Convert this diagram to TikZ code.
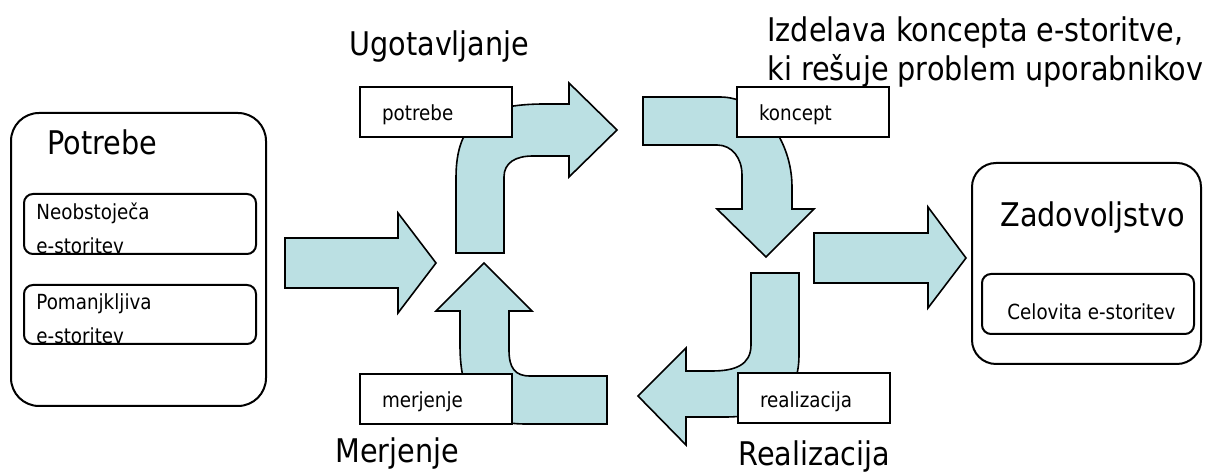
\documentclass[tikz,border=0pt]{standalone}
\usepackage{fontspec}
\setmainfont{DejaVu Sans}[FakeStretch=0.88]
\usepackage{tikz}
\usetikzlibrary{positioning}
\definecolor{arrowblue}{RGB}{187,224,227}
\newcommand{\bigfont}{\fontsize{16.3pt}{19.5pt}\selectfont}
\newcommand{\smallfont}{\fontsize{10.4pt}{17pt}\selectfont}

\begin{document}
\begin{tikzpicture}[x=0.5pt, y=-0.5pt,
    bigbox/.style={draw, line width=1pt, rounded corners=14pt, anchor=north west, inner sep=0pt},
    innerbox/.style={draw, line width=1pt, rounded corners=4.5pt, anchor=north west, inner sep=0pt},
    labelbox/.style={draw, line width=1pt, fill=white, minimum width=76pt, minimum height=25pt, inner sep=0pt,
      text width=54pt, align=left, text height=17pt, text depth=8pt, font=\smallfont},
    headline/.style={anchor=base west, inner sep=0pt, font=\bigfont, align=left},
    itemtext/.style={anchor=base west, inner sep=0pt, font=\smallfont, align=left},
    blockarrow/.style={draw, line width=0.8pt, fill=arrowblue, line join=miter}]
  \useasboundingbox (0,0) rectangle (1207,475);

  \draw[blockarrow] (285,238) -- (398,238) -- (398,213) -- (436,263) -- (398,313) -- (398,288) -- (285,288) -- cycle;
  \draw[blockarrow] (814,233) -- (928,233) -- (928,207) -- (966,258) -- (928,308) -- (928,283) -- (814,283) -- cycle;

  \draw[blockarrow] (456,253) -- (456,178) .. controls (456,120) and (485,104) .. (545,104) -- (569,104) -- (569,83)
    -- (617,130) -- (569,177) -- (569,156) -- (533,156) .. controls (515,156) and (504,163) .. (504,177) -- (504,253) -- cycle;
  \draw[blockarrow] (643,97) -- (720,97) .. controls (760,97) and (792,140) .. (792,187) -- (792,209) -- (814,209)
    -- (766,257) -- (717,209) -- (742,209) -- (742,175) .. controls (742,158) and (732,145) .. (717,145) -- (643,145) -- cycle;
  \draw[blockarrow] (751,273) -- (799,273) -- (799,355) .. controls (799,400) and (770,417) .. (725,417) -- (686,417) -- (686,445)
    -- (638,396) -- (686,348) -- (686,371) -- (712,371) .. controls (735,371) and (751,365) .. (751,345) -- cycle;
  \draw[blockarrow] (607,376) -- (607,424) -- (525,424) .. controls (480,424) and (460,400) .. (460,345) -- (460,311) -- (436,311)
    -- (484,263) -- (532,311) -- (509,311) -- (509,350) .. controls (509,368) and (515,376) .. (530,376) -- cycle;

  \node[labelbox] (potrebebox) at (436,112) {potrebe};
  \node[labelbox] (konceptbox) at (813,112) {koncept};
  \node[labelbox] (realizbox) at (814,398.5) {realizacija};
  \node[labelbox] (merjbox) at (436,399) {merjenje};

  \node[bigbox, minimum width=127.5pt, minimum height=146.5pt] (potrebe) at (10,112) {};
  \node[headline] (potrebetitle) at (47,155) {Potrebe};
  \node[innerbox, minimum width=116pt, minimum height=30pt] (neobox) at (23,193) {};
  \node[innerbox, minimum width=116pt, minimum height=29.5pt] (pomabox) at (23,284) {};
  \begin{scope}
    \clip (neobox.north west) rectangle (neobox.south east);
    \node[itemtext] (neotext) at (36,254) {Neobstoječa\\e-storitev};
  \end{scope}
  \begin{scope}
    \clip (pomabox.north west) rectangle (pomabox.south east);
    \node[itemtext] (pomatext) at (36,344) {Pomanjkljiva\\e-storitev};
  \end{scope}

  \node[bigbox, minimum width=114.5pt, minimum height=100.5pt, rounded corners=12pt] (zadovoljstvo) at (971,162) {};
  \node[headline] (zadtitle) at (1000,227) {Zadovoljstvo};
  \node[innerbox, minimum width=106pt, minimum height=30pt] (celbox) at (981,273) {};
  \node[itemtext] (celtext) at (1007,320) {Celovita e-storitev};

  \node[headline] (ugotavljanje) at (349,56) {Ugotavljanje};
  \node[headline] (izdelava) at (767,81) {Izdelava koncepta e-storitve,\\ki rešuje problem uporabnikov};
  \node[headline] (merjenje) at (335,463) {Merjenje};
  \node[headline] (realizacija) at (738,466) {Realizacija};
\end{tikzpicture}
\end{document}
